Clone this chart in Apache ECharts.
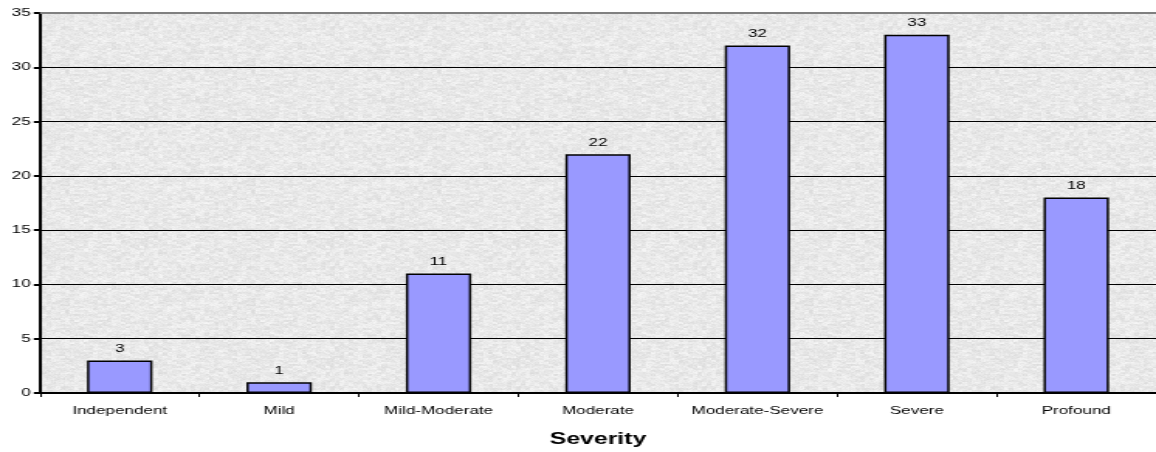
<!DOCTYPE html>
<html>
<head>
<meta charset="utf-8">
<script src="https://cdn.jsdelivr.net/npm/echarts@6/dist/echarts.min.js"></script>
<style>
html,body{margin:0;padding:0;background:#fff;overflow:hidden}
#wrap{width:1156px;height:452px;overflow:hidden}
#c{width:746px;height:452px;transform:scaleX(1.5496);transform-origin:0 0}
</style>
</head>
<body>
<div id="wrap"><div id="c"></div></div>
<script>
const categories = ['Independent','Mild','Mild-Moderate','Moderate','Moderate-Severe','Severe','Profound'];
const counts = [3, 1, 11, 22, 32, 33, 18];
const yTicks = {min: 0, max: 35, interval: 5};
const xAxisTitle = 'Severity';

// light grey "granite" fill for the plot area (deterministic hash texture)
function makeTexture() {
  const n = 120, cv = document.createElement('canvas');
  cv.width = n; cv.height = n;
  const ctx = cv.getContext('2d');
  const img = ctx.createImageData(n, n);
  const h = (a, b) => { let t = (a * 374761393 + b * 668265263) | 0; t = (t ^ (t >>> 13)) * 1274126177 | 0; t = t ^ (t >>> 16); return ((t >>> 0) % 1000) / 1000; };
  for (let y = 0; y < n; y++) for (let x = 0; x < n; x++) {
    const v = Math.round(219 + 16 * h(Math.floor(x / 3), Math.floor(y / 2) + 999) + 12 * h(x, y));
    const i = (y * n + x) * 4;
    img.data[i] = img.data[i + 1] = img.data[i + 2] = v; img.data[i + 3] = 255;
  }
  ctx.putImageData(img, 0, 0);
  return {image: cv, repeat: 'repeat'};
}

const S = 1156 / 746; // horizontal stretch applied to the container
const chart = echarts.init(document.getElementById('c'));
const font = '"Liberation Sans", Arial, sans-serif';
chart.setOption({
  animation: false,
  grid: {left: 40 / S, right: 0, top: 13, bottom: 59, outerBoundsMode: 'none', containLabel: false,
         show: true, backgroundColor: makeTexture(), borderWidth: 0},
  xAxis: {
    type: 'category', data: categories,
    name: xAxisTitle, nameLocation: 'middle', nameGap: 39,
    nameTextStyle: {fontFamily: font, fontSize: 16, fontWeight: 'bold', color: '#000'},
    axisLine: {lineStyle: {color: '#000', width: 2}},
    axisTick: {show: true, alignWithLabel: false, length: 4, lineStyle: {color: '#000', width: 1}},
    axisLabel: {fontFamily: font, fontSize: 11, color: '#000', margin: 12, interval: 0},
    splitLine: {show: false}
  },
  yAxis: {
    type: 'value', min: yTicks.min, max: yTicks.max, interval: yTicks.interval,
    axisLine: {show: true, lineStyle: {color: '#000', width: 2}},
    axisTick: {show: true, length: 4, lineStyle: {color: '#000', width: 2}},
    axisLabel: {fontFamily: font, fontSize: 11, color: '#000', margin: 6},
    splitLine: {show: true, lineStyle: {color: '#000', width: 1}}
  },
  series: [{
    type: 'bar', data: counts, barWidth: '41%',
    itemStyle: {color: '#9999ff', borderColor: '#000', borderWidth: 1.5},
    label: {show: true, position: 'top', distance: 6, fontFamily: font, fontSize: 11, color: '#000'},
    markLine: {
      silent: true, symbol: 'none', label: {show: false},
      lineStyle: {color: '#808080', width: 2, type: 'solid'},
      data: [{yAxis: yTicks.max}]
    }
  }]
});
</script>
</body>
</html>
